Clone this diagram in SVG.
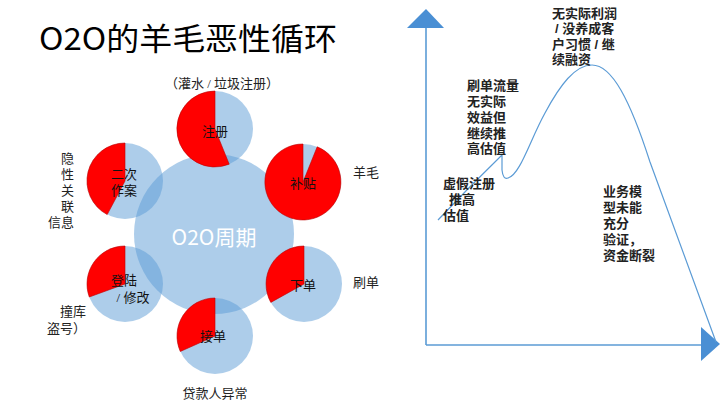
<svg xmlns="http://www.w3.org/2000/svg" width="720" height="405" viewBox="0 0 720 405">
<style>
.bub{fill:#5b9bd5;fill-opacity:0.5}
.red{fill:#ff0000;stroke:#c00000;stroke-width:0.6}
.in{font-family:"Liberation Serif","Noto Sans CJK SC",serif;font-size:13px;fill:#111;text-anchor:middle;dominant-baseline:central}
.out{font-family:"Liberation Serif","Noto Sans CJK SC",serif;font-size:13px;fill:#222;dominant-baseline:central}
.note{font-family:"Liberation Sans","Noto Sans CJK SC",sans-serif;font-size:13px;font-weight:bold;fill:#222;dominant-baseline:central}
.ax{stroke:#5b9bd5;stroke-width:1.6;fill:none}
.arr{fill:#4a8fd4}
</style>
<rect width="720" height="405" fill="#ffffff"/>
<text x="39" y="50" font-family="'Noto Sans CJK SC',sans-serif" font-size="31" fill="#000" textLength="298" lengthAdjust="spacingAndGlyphs">O2O的羊毛恶性循环</text>

<g id="center">
<circle class="bub" cx="214" cy="234" r="80"/>
<text x="214" y="236" font-family="'Noto Sans CJK SC',sans-serif" font-size="21" fill="#ffffff" text-anchor="middle" dominant-baseline="central">O2O周期</text>
</g>

<g id="node-register">
<circle class="bub" cx="215" cy="129" r="38"/>
<path class="red" d="M215,129 L215,91 A38,38 0 1,0 229.2,164.2 Z"/>
<text class="in" x="215" y="131">注册</text>
<text class="out" x="222" y="83" text-anchor="middle" font-size="12.5">（灌水 / 垃圾注册）</text>
</g>

<g id="node-subsidy">
<circle class="bub" cx="303" cy="182" r="38"/>
<path class="red" d="M303,182 L317.2,146.8 A38,38 0 1,1 303,144 Z"/>
<text class="in" x="303" y="183">补贴</text>
<text class="out" x="353" y="172">羊毛</text>
</g>

<g id="node-order">
<circle class="bub" cx="304" cy="284" r="38"/>
<path class="red" d="M304,284 L304,246 A38,38 0 0,0 270.8,302.4 Z"/>
<text class="in" x="303" y="285">下单</text>
<text class="out" x="353" y="282">刷单</text>
</g>

<g id="node-accept">
<circle class="bub" cx="215" cy="336" r="38"/>
<path class="red" d="M215,336 L215,298 A38,38 0 0,0 180.3,351.5 Z"/>
<text class="in" x="213" y="336">接单</text>
<text class="out" x="215" y="393" text-anchor="middle">贷款人异常</text>
</g>

<g id="node-login">
<circle class="bub" cx="125" cy="284" r="38"/>
<path class="red" d="M125,284 L125,246 A38,38 0 0,0 89.3,297 Z"/>
<text class="in" x="124" y="280">登陆</text>
<text class="in" x="133" y="297">/ 修改</text>
<text class="out" x="60" y="311">撞库</text>
<text class="out" x="47" y="328">盗号）</text>
</g>

<g id="node-repeat">
<circle class="bub" cx="125" cy="181" r="38"/>
<path class="red" d="M125,181 L125,143 A38,38 0 0,0 107.2,214.6 Z"/>
<text class="in" x="124" y="174">二次</text>
<text class="in" x="124" y="190">作案</text>
<text class="out" x="61" y="158">隐</text>
<text class="out" x="61" y="174">性</text>
<text class="out" x="61" y="190">关</text>
<text class="out" x="61" y="206">联</text>
<text class="out" x="48" y="222">信息</text>
</g>

<g id="chart">
<line class="ax" x1="426" y1="26" x2="426" y2="345"/>
<line class="ax" x1="426" y1="345" x2="704" y2="345"/>
<polygon class="arr" points="407,28 426,9 444,28"/>
<polygon class="arr" points="701,327 720,344 701,361"/>
<path d="M438,220 Q470,186 502,155 L502,170 Q503,180 508,178 C520,175 530,140 545,113 C560,85 575,65 592,65 C612,65 630,100 650,162 L716,342" fill="none" stroke="#5b9bd5" stroke-width="1.2"/>
</g>

<g id="labels-chart">
<text class="note" x="552" y="13">无实际利润</text>
<text class="note" x="555" y="28">/ 没养成客</text>
<text class="note" x="552" y="44">户习惯 / 继</text>
<text class="note" x="552" y="59">续融资</text>
<text class="note" x="467" y="85">刷单流量</text>
<text class="note" x="467" y="101">无实际</text>
<text class="note" x="467" y="117">效益但</text>
<text class="note" x="467" y="133">继续推</text>
<text class="note" x="467" y="148">高估值</text>
<text class="note" x="443" y="183">虚假注册</text>
<text class="note" x="449" y="199">推高</text>
<text class="note" x="443" y="215">估值</text>
<text class="note" x="603" y="191">业务模</text>
<text class="note" x="603" y="207">型未能</text>
<text class="note" x="603" y="223">充分</text>
<text class="note" x="603" y="239">验证，</text>
<text class="note" x="603" y="255">资金断裂</text>
</g>
</svg>
